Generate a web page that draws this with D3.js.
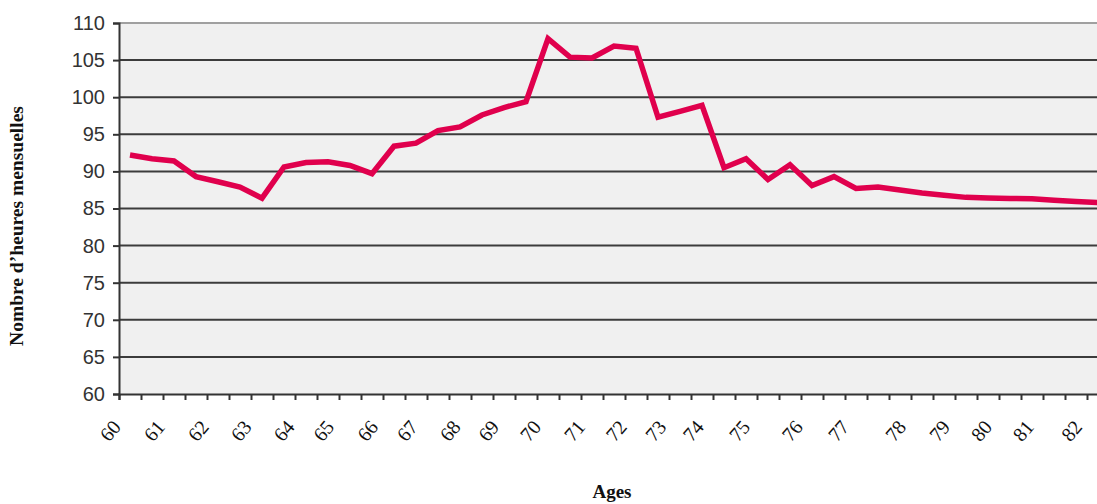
<!DOCTYPE html>
<html>
<head>
<meta charset="utf-8">
<script src="https://cdn.jsdelivr.net/npm/d3@7/dist/d3.min.js"></script>
<style>
  html, body { margin: 0; padding: 0; background: #ffffff; }
  svg { display: block; }
</style>
</head>
<body>
<div id="chart"></div>
<script>
// ---- Data ----
// Monthly hours, one value per half-year step starting at age 60
const hours = [92.2, 91.7, 91.4, 89.3, 88.6, 87.9, 86.4, 90.6, 91.2, 91.3,
               90.8, 89.7, 93.4, 93.8, 95.5, 96.0, 97.6, 98.6, 99.4, 107.9,
               105.4, 105.3, 106.9, 106.6, 97.3, 98.1, 98.9, 90.5, 91.7, 88.9,
               90.9, 88.1, 89.3, 87.7, 87.9, 87.5, 87.1, 86.8, 86.5, 86.4,
               86.35, 86.3, 86.1, 85.95, 85.8];
// Age labels and where they sit along the step axis (in step units)
const ageLabels = [60, 61, 62, 63, 64, 65, 66, 67, 68, 69, 70, 71,
                   72, 73, 74, 75, 76, 77, 78, 79, 80, 81, 82];
const ageLabelAt = [0, 2.0, 4.0, 5.95, 7.9, 9.7, 11.7, 13.5, 15.45, 17.2, 19.1, 21.1,
                    23.0, 24.8, 26.5, 28.6, 31.0, 33.1, 35.7, 37.7, 39.6, 41.5, 43.7];
const yTicks = [60, 65, 70, 75, 80, 85, 90, 95, 100, 105, 110];
const yTitle = "Nombre d\u2019heures mensuelles";
const xTitle = "Ages";

// ---- Layout ----
const W = 1097, H = 504;
const mLeft = 119, mTop = 23, mBottom = 394;
const stepCount = 45;
const stepPx = 22;

const svg = d3.select("#chart").append("svg")
  .attr("width", W).attr("height", H);

const x = d3.scaleLinear().domain([0, stepCount]).range([mLeft, mLeft + stepCount * stepPx]);
const y = d3.scaleLinear().domain([60, 110]).range([mBottom, mTop]);

// plot background
svg.append("rect")
  .attr("x", mLeft).attr("y", mTop)
  .attr("width", W - mLeft).attr("height", mBottom - mTop)
  .attr("fill", "#f0f0f0");

// gridlines
svg.append("g").selectAll("line")
  .data(yTicks.filter(v => v > 60))
  .join("line")
  .attr("x1", mLeft).attr("x2", W)
  .attr("y1", d => y(d)).attr("y2", d => y(d))
  .attr("stroke", d => d === 110 ? "#a0a0a0" : "#3c3c3c")
  .attr("stroke-width", 2);

// y axis
const yAxis = svg.append("g")
  .attr("transform", `translate(${mLeft},0)`)
  .call(d3.axisLeft(y).tickValues(yTicks).tickSize(6).tickPadding(8).tickFormat(d3.format("d")));
yAxis.select(".domain").attr("stroke", "#333").attr("stroke-width", 2);
yAxis.selectAll(".tick line").attr("stroke", "#333").attr("stroke-width", 2);
yAxis.selectAll(".tick text")
  .attr("font-family", "'Liberation Sans', Arial, sans-serif")
  .attr("font-size", 20).attr("fill", "#333");

// x axis ticks (step boundaries)
const xAxis = svg.append("g")
  .attr("transform", `translate(0,${mBottom})`)
  .call(d3.axisBottom(x).tickValues(d3.range(0, stepCount + 1)).tickSize(6).tickFormat(""));
xAxis.select(".domain").attr("stroke", "#333").attr("stroke-width", 2);
xAxis.selectAll(".tick line").attr("stroke", "#333").attr("stroke-width", 2);

// x axis age labels
const xLab = svg.append("g")
  .attr("transform", `translate(0,${mBottom})`)
  .call(d3.axisBottom(x).tickValues(ageLabelAt).tickSize(0)
        .tickFormat((d, i) => ageLabels[i]));
xLab.select(".domain").remove();
xLab.selectAll(".tick text")
  .attr("font-family", "'Liberation Serif', 'Times New Roman', serif")
  .attr("font-size", 20).attr("fill", "#111")
  .attr("text-anchor", "end")
  .attr("dy", "0.35em")
  .attr("transform", "translate(-3,29) rotate(-50)")
  .attr("y", 0).attr("x", 0);

// line
const line = d3.line()
  .x((d, i) => x(i + 0.5))
  .y(d => y(d));
svg.append("path")
  .datum(hours)
  .attr("d", line)
  .attr("fill", "none")
  .attr("stroke", "#e0004d")
  .attr("stroke-width", 5.5)
  .attr("stroke-linejoin", "miter")
  .attr("stroke-miterlimit", 4);

// titles
svg.append("text")
  .attr("transform", `translate(23,226) rotate(-90)`)
  .attr("text-anchor", "middle")
  .attr("font-family", "'Liberation Serif', 'Times New Roman', serif")
  .attr("font-weight", "bold").attr("font-size", 19.5)
  .attr("fill", "#111")
  .text(yTitle);

svg.append("text")
  .attr("x", 612).attr("y", 498)
  .attr("text-anchor", "middle")
  .attr("font-family", "'Liberation Serif', 'Times New Roman', serif")
  .attr("font-weight", "bold").attr("font-size", 19)
  .attr("fill", "#111")
  .text(xTitle);
</script>
</body>
</html>
